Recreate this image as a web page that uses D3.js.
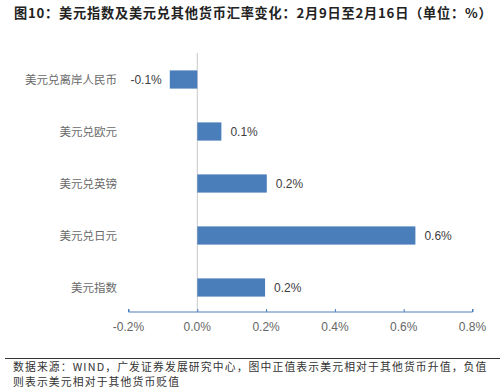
<!DOCTYPE html>
<html><head><meta charset="utf-8">
<script src="https://cdn.jsdelivr.net/npm/d3@7"></script>
<style>body{margin:0;background:#fff}</style>
</head><body>
<svg id="c" width="500" height="392"></svg>
<script>
const categories = ["美元兑离岸人民币","美元兑欧元","美元兑英镑","美元兑日元","美元指数"];
const values = [-0.08, 0.07, 0.202, 0.634, 0.197];
const valueLabels = ["-0.1%","0.1%","0.2%","0.6%","0.2%"];
const xTicks = [-0.2, 0, 0.2, 0.4, 0.6, 0.8];
const title = "图10：美元指数及美元兑其他货币汇率变化：2月9日至2月16日（单位：%）";
const note1 = "数据来源：WIND，广发证券发展研究中心，图中正值表示美元相对于其他货币升值，负值";
const note2 = "则表示美元相对于其他货币贬值";

const svg = d3.select("#c");
const cjk = "'Noto Sans CJK SC', sans-serif";
const lat = "'Liberation Sans', Arial, sans-serif";

svg.append("text").attr("x", 14).attr("y", 18)
  .attr("font-family", cjk).attr("font-weight", "bold").attr("font-size", 13.2)
  .attr("letter-spacing", 0.78)
  .attr("fill", "#222").text(title);

const x = d3.scaleLinear().domain([-0.2, 0.8]).range([128.5, 472.5]);
const y = d3.scaleBand().domain(categories).range([53.5, 313.5]).paddingInner(0.65).paddingOuter(0.325);

// zero line
svg.append("line").attr("x1", x(0)).attr("x2", x(0)).attr("y1", 53).attr("y2", 312)
  .attr("stroke", "#c8c8c8").attr("stroke-width", 1);

// bars
svg.selectAll("rect.bar").data(values).join("rect")
  .attr("x", d => x(Math.min(0, d)))
  .attr("width", d => Math.abs(x(d) - x(0)))
  .attr("y", (d, i) => y(categories[i]))
  .attr("height", y.bandwidth())
  .attr("fill", "#4A7EBB");

// value labels
svg.selectAll("text.vl").data(values).join("text")
  .attr("x", d => d < 0 ? x(d) - 8 : x(d) + 9)
  .attr("y", (d, i) => y(categories[i]) + y.bandwidth() / 2 + 4.5)
  .attr("text-anchor", d => d < 0 ? "end" : "start")
  .attr("font-family", lat).attr("font-size", 12).attr("fill", "#404040")
  .text((d, i) => valueLabels[i]);

// category labels
svg.selectAll("text.cl").data(categories).join("text")
  .attr("x", 117)
  .attr("y", d => y(d) + y.bandwidth() / 2 + 4)
  .attr("text-anchor", "end")
  .attr("font-family", cjk).attr("font-size", 11.5).attr("fill", "#6a6a6a")
  .text(d => d);

// x axis
const ax = svg.append("g").attr("transform", "translate(0,312)")
  .call(d3.axisTop(x).tickValues(xTicks).tickSize(3).tickFormat(""));
ax.select(".domain").attr("stroke", "#4A7EBB").attr("d", `M${x(-0.2)},-3V0H${x(0.8)}V-3`);
ax.selectAll(".tick line").attr("stroke", "#4A7EBB");
svg.selectAll("text.xt").data(xTicks).join("text")
  .attr("x", d => x(d)).attr("y", 331).attr("text-anchor", "middle")
  .attr("font-family", lat).attr("font-size", 12).attr("fill", "#666")
  .text(d => d3.format(".1f")(d).replace("−", "-") + "%");

// footer
svg.append("line").attr("x1", 5).attr("x2", 500).attr("y1", 358.5).attr("y2", 358.5)
  .attr("stroke", "#333").attr("stroke-width", 1);
svg.append("text").attr("x", 13).attr("y", 371).attr("font-family", cjk).attr("font-size", 10.8)
  .attr("letter-spacing", 1.15)
  .attr("fill", "#333").text(note1);
svg.append("text").attr("x", 13).attr("y", 386).attr("font-family", cjk).attr("font-size", 10.8)
  .attr("letter-spacing", 1.15)
  .attr("fill", "#333").text(note2);
</script>
</body></html>
